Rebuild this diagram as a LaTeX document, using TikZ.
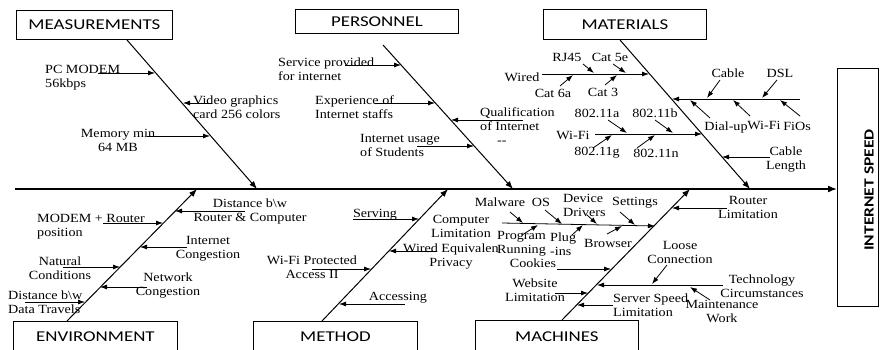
\documentclass[tikz,border=0pt]{standalone}
\usepackage{fontspec}
\setmainfont{Liberation Serif}[FakeStretch=1.13]
\newfontfamily\boxfont{Carlito}[FakeStretch=1.26]
\newfontfamily\resfont{Carlito}[FakeStretch=1.25]
\usetikzlibrary{arrows.meta}
\newcommand\arrw[4]{\coordinate (#1s) at (#2); \coordinate (#1e) at (#3); \draw[#4] (#1s) -- (#1e);}
\begin{document}
\begin{tikzpicture}[x=1pt,y=-1pt,
  lbl/.style={font=\fontsize{12.5}{14}\selectfont, inner sep=0pt, align=center},
  lbll/.style={lbl, align=left, anchor=west},
  catbox/.style={draw, line width=0.8pt, font=\boxfont\fontsize{15}{16}\selectfont, inner sep=0pt, anchor=north west},
  bone/.style={line width=1pt, -{Latex[length=8pt,width=6pt]}},
  sub/.style={line width=0.8pt, -{Latex[length=7pt,width=5pt]}},
  spine/.style={line width=1.6pt, -{Latex[length=9pt,width=7pt]}}]
\useasboundingbox (0,0) rectangle (880,350);
\clip (0,0) rectangle (880,350);
\fill[white] (0,0) rectangle (880,350);

% category boxes
\node[catbox, minimum width=156pt, minimum height=29pt] (meas) at (16,10) {MEASUREMENTS};
\node[catbox, minimum width=163pt, minimum height=24pt] (pers) at (295,9) {PERSONNEL};
\node[catbox, minimum width=163pt, minimum height=30pt] (mat) at (543,9) {MATERIALS};
\node[catbox, minimum width=164pt, minimum height=31pt] (env) at (13,321) {ENVIRONMENT};
\node[catbox, minimum width=164pt, minimum height=31pt] (meth) at (253,321) {METHOD};
\node[catbox, minimum width=163pt, minimum height=32pt] (mach) at (475,320) {MACHINES};
\node[draw, line width=0.8pt, minimum width=41pt, minimum height=238pt, anchor=north west, inner sep=0pt] (res) at (837,68) {};
\node[rotate=90, inner sep=0pt, font=\resfont\bfseries\fontsize{14}{16}\selectfont] (restxt) at (869,190) {INTERNET SPEED};

% spine
\coordinate (spL) at (15,189);
\draw[spine] (spL) -- (spL -| res.west);

% main bones
\arrw{bm}{127,40}{257,189}{bone}
\arrw{bp}{383,45}{513,189}{bone}
\arrw{bt}{620,40}{750,189}{bone}
\arrw{be}{67,321}{197,189}{bone}
\arrw{bh}{322,321}{448,189}{bone}
\arrw{bc}{562,320}{690,189}{bone}

% MEASUREMENTS
\node[lbll] (Lpcm) at (45,78) {PC MODEM\\56kbps};
\node[lbll] (Lvid) at (193,107) {Video graphics\\card 256 colors};
\node[lbl] (Lmem) at (118,140) {Memory min\\64 MB};
\arrw{m1}{98,73}{155,73}{sub}
\arrw{m2}{212,103}{183,103}{sub}
\arrw{m3}{147,136}{210,136}{sub}

% PERSONNEL
\node[lbll] (Lserv) at (278,69) {Service provided\\for internet};
\node[lbll] (Lexp) at (315,107) {Experience of\\Internet staffs};
\node[lbll] (Lqual) at (480,126) {Qualification\\of Internet\\\hspace*{17pt}{-}{-}};
\node[lbll] (Luse) at (360,145) {Internet usage\\of Students};
\arrw{p1}{345,65}{401,65}{sub}
\arrw{p2}{375,103}{435,103}{sub}
\arrw{p3}{523,120}{451,120}{sub}
\arrw{p4}{417,146}{474,146}{sub}

% MATERIALS
\node[lbl] (Lwired) at (522,77) {Wired};
\node[lbl] (Lrj) at (567,57) {RJ45};
\node[lbl] (Lc5) at (610,57) {Cat 5e};
\node[lbl] (Lc6) at (553,93) {Cat 6a};
\node[lbl] (Lc3) at (603,92) {Cat 3};
\arrw{tw}{542,74}{649,74}{sub}
\arrw{w1}{583,64}{594,73}{sub}
\arrw{w2}{613,64}{626,73}{sub}
\arrw{w3}{560,86}{573,75}{sub}
\arrw{w4}{605,85}{617,75}{sub}

\node[lbl] (Lcab) at (728,73) {Cable};
\node[lbl] (Ldsl) at (780,73) {DSL};
\node[lbl] (Ldial) at (726,127) {Dial-up};
\node[lbl] (Lwf2) at (764,125) {Wi-Fi};
\node[lbl] (Lfios) at (797,126) {FiOs};
\arrw{tb}{800,99}{672,99}{sub}
\arrw{b1}{720,80}{707,98}{sub}
\arrw{b2}{777,80}{762,98}{sub}
\arrw{b3}{710,118}{690,100}{sub}
\arrw{b4}{750,116}{733,100}{sub}
\arrw{b5}{800,116}{780,100}{sub}

\node[lbl] (Lwifi) at (573,135) {Wi-Fi};
\node[lbl] (La) at (597,113) {802.11a};
\node[lbl] (Lb) at (655,113) {802.11b};
\node[lbl] (Lg) at (597,153) {802.11g};
\node[lbl] (Ln) at (656,153) {802.11n};
\arrw{tf}{595,134}{702,134}{sub}
\arrw{f1}{608,120}{627,133}{sub}
\arrw{f2}{655,120}{673,133}{sub}
\arrw{f3}{593,148}{612,135}{sub}
\arrw{f4}{637,148}{655,135}{sub}

\node[lbl] (Lclen) at (786,160) {Cable\\Length};
\arrw{tl}{770,157}{722,157}{sub}

% ENVIRONMENT
\node[lbl] (Ldrc) at (250,211) {Distance b\textbackslash w\\Router \& Computer};
\node[lbll] (Lmod) at (37,226.5) {MODEM + Router\\position};
\node[lbl] (Licg) at (208,249) {Internet\\Congestion};
\node[lbl] (Lnat) at (60,268.5) {Natural\\Conditions};
\node[lbl] (Lncg) at (168,285.5) {Network\\Congestion};
\node[lbll] (Ldt) at (8,302.5) {Distance b\textbackslash w\\Data Travels};
\arrw{e1}{245,211}{175,211}{sub}
\arrw{e2}{103,223}{163,223}{sub}
\arrw{e3}{187,247}{140,247}{sub}
\arrw{e4}{63,267}{120,267}{sub}
\arrw{e5}{147,287}{100,287}{sub}
\arrw{e6}{25,302}{85,302}{sub}

% METHOD
\node[lbl] (Lserving) at (375,215) {Serving};
\node[lbl] (Lcomp) at (461,226) {Computer\\Limitation};
\node[lbl] (Lwep) at (451,256.5) {Wired Equivalen\\Privacy};
\node[lbl] (Lwpa) at (312,267.5) {Wi-Fi Protected\\Access II};
\node[lbl] (Lacc) at (398,298) {Accessing};
\arrw{t1}{353,219}{419,219}{sub}
\arrw{t2}{437,251}{389,251}{sub}
\arrw{t3}{312,269}{371,269}{sub}
\arrw{t4}{405,304}{339,304}{sub}

% MACHINES
\node[lbl] (Lmal) at (500,202) {Malware};
\node[lbl] (Los) at (541,202) {OS};
\node[lbll] (Ldev) at (563,205) {Device\\Drivers};
\node[lbl] (Lset) at (635,203) {Settings};
\node[lbll] (Lprog) at (497,244) {Program\\Running};
\node[lbll] (Lplug) at (550,244.5) {Plug\\-ins};
\node[lbl] (Lbrow) at (608,243) {Browser};
\arrw{tc}{502,223}{655,226}{sub}
\arrw{k1}{510,212}{523,223}{sub}
\arrw{k2}{545,210}{562,224}{sub}
\arrw{k3}{587,215}{597,224}{sub}
\arrw{k4}{620,212}{635,225}{sub}
\arrw{k5}{522,235}{538,225}{sub}
\arrw{k6}{572,235}{583,225}{sub}
\arrw{k7}{607,234}{622,226}{sub}

\node[lbl] (Lrout) at (748,207) {Router\\Limitation};
\node[lbl] (Lcook) at (533,263) {Cookies};
\node[lbl] (Lweb) at (535,290) {Website\\Limitation};
\node[lbll] (Lsrv) at (613,305.5) {Server Speed\\Limitation};
\node[lbl] (Lloose) at (680,252) {Loose\\Connection};
\node[lbl] (Ltech) at (762,286.5) {Technology\\Circumstances};
\node[lbl] (Lmaint) at (722,311) {Maintenance\\Work};
\arrw{r1}{727,208}{672,208}{sub}
\arrw{c1}{557,269}{611,269}{sub}
\arrw{c2}{555,293}{588,293}{sub}
\arrw{c3}{613,305}{577,305}{sub}
\arrw{tt}{723,285}{597,285}{sub}
\arrw{l1}{667,265}{652,284}{sub}
\arrw{l2}{710,300}{690,287}{sub}
\end{tikzpicture}
\end{document}
